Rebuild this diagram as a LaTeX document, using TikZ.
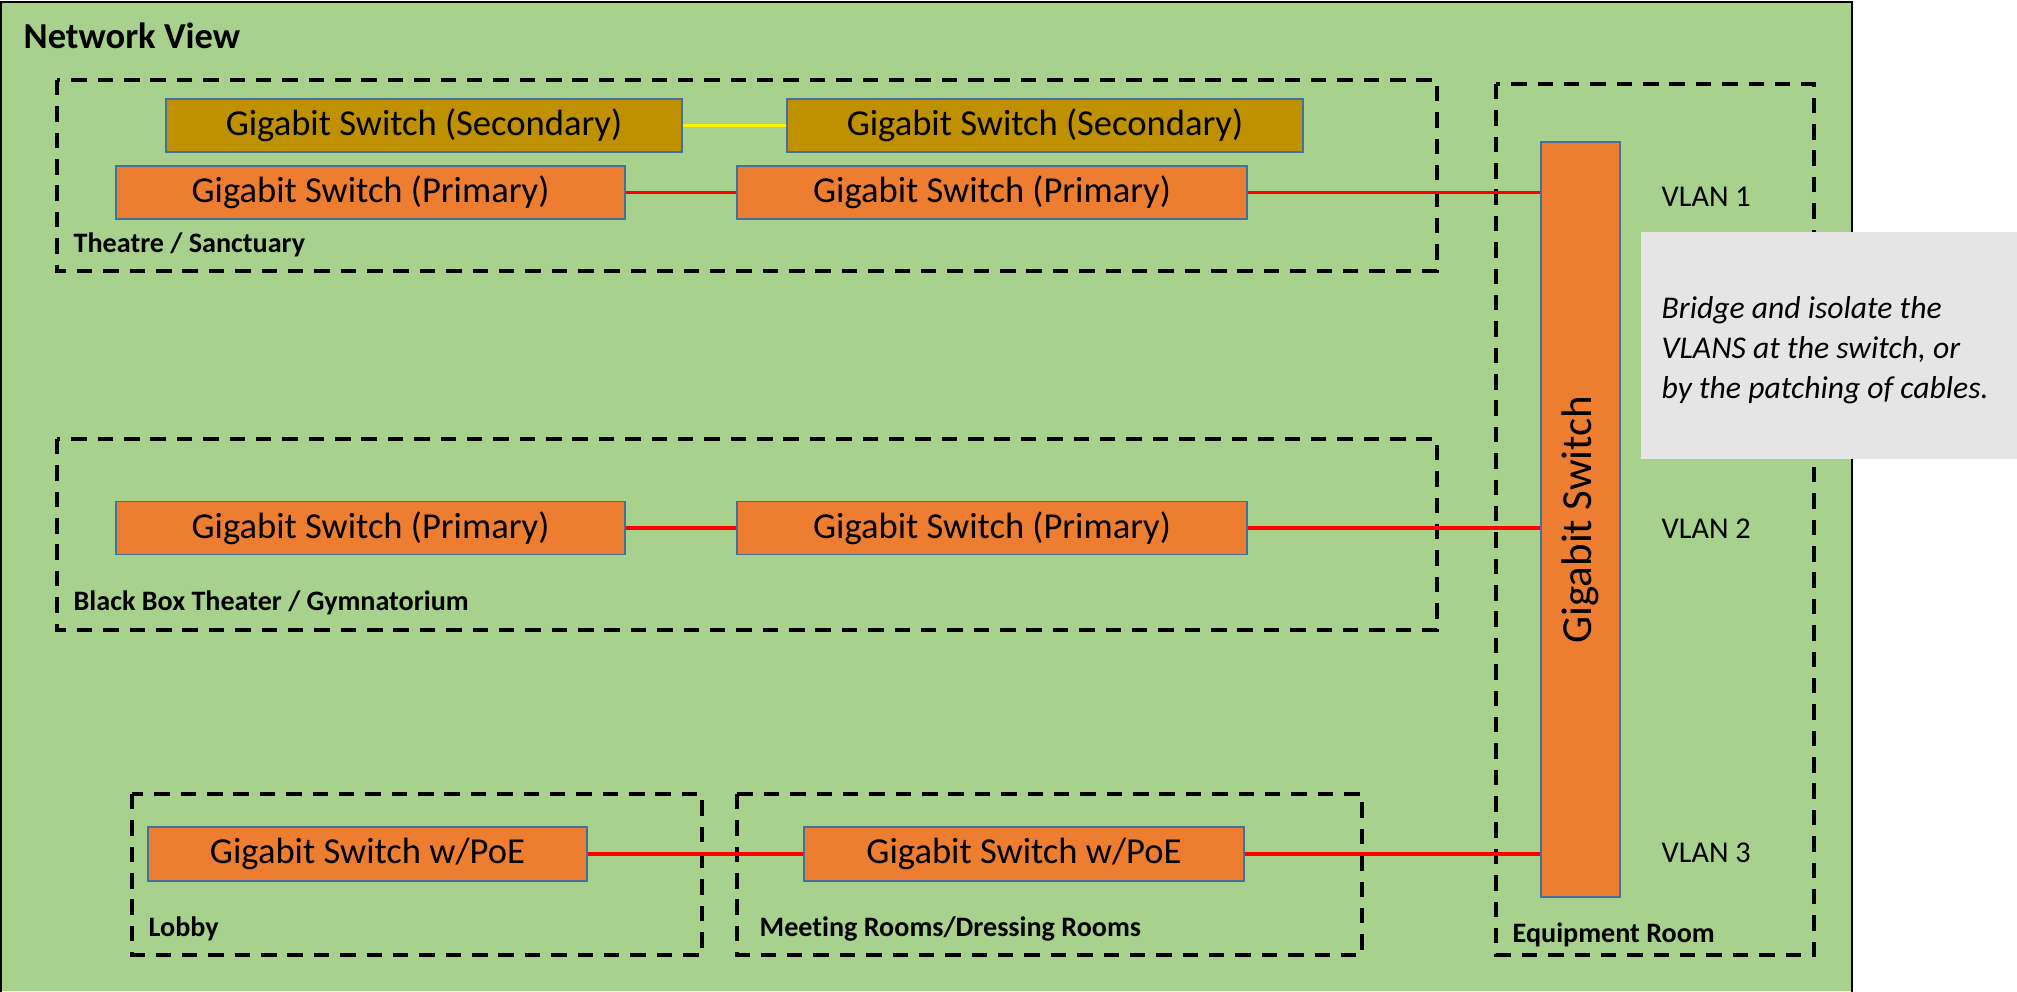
\documentclass[tikz,border=0pt]{standalone}
\usepackage{fontspec}
\setmainfont{Carlito}[Ligatures=NoCommon]
\definecolor{bggreen}{HTML}{A9D18E}
\definecolor{swprim}{HTML}{ED7D31}
\definecolor{swsec}{HTML}{BF9000}
\definecolor{swedge}{HTML}{41719C}
\definecolor{notegray}{HTML}{E5E5E5}
\tikzset{
  switchbox/.style={draw=swedge, line width=0.5pt, inner sep=0pt, font=\fontsize{10.4}{12}\selectfont},
  zone/.style={draw=black, line width=1.2pt, dash pattern=on 4.4pt off 3.1pt},
  zonelabel/.style={anchor=west, inner sep=0pt, font=\bfseries\fontsize{8}{9.6}\selectfont},
  vlanlabel/.style={anchor=west, inner sep=0pt, font=\fontsize{8.6}{10}\selectfont},
  redlink/.style={red, line width=0.9pt},
}
\begin{document}
\begin{tikzpicture}[x=0.01cm, y=-0.01cm]
\useasboundingbox (0,0) rectangle (2017,992);
\fill[bggreen] (1,2) rectangle (1852,991);
\draw[line width=0.7pt] (1,992) -- (1,2) -- (1852,2) -- (1852,992);
\node[anchor=west, inner sep=0pt, font=\bfseries\fontsize{10.4}{12}\selectfont] (title) at (23,36) {Network View};
% zones
\draw[zone] (57,80) rectangle (1437,271);
\node[zonelabel] (zthe) at (73,245) {Theatre / Sanctuary};
\draw[zone] (57,439) rectangle (1437,630);
\node[zonelabel] (zbbt) at (73,603) {Black Box Theater / Gymnatorium};
\draw[zone] (132,794) rectangle (702,955);
\node[zonelabel] (zlob) at (148,929) {Lobby};
\draw[zone] (737,794) rectangle (1362,955);
\node[zonelabel] (zmtg) at (759,929) {Meeting Rooms/Dressing Rooms};
\draw[zone] (1496,84) rectangle (1814,955);
\node[zonelabel] (zeqp) at (1512,935) {Equipment Room};
% switches
\node[switchbox, fill=swsec, minimum width=5.16cm, minimum height=0.53cm] (sec1) at (424,125.5) {Gigabit Switch (Secondary)};
\node[switchbox, fill=swsec, minimum width=5.16cm, minimum height=0.53cm] (sec2) at (1045,125.5) {Gigabit Switch (Secondary)};
\node[switchbox, fill=swprim, minimum width=5.09cm, minimum height=0.53cm] (thp1) at (370.5,192.5) {Gigabit Switch (Primary)};
\node[switchbox, fill=swprim, minimum width=5.10cm, minimum height=0.53cm] (thp2) at (992,192.5) {Gigabit Switch (Primary)};
\node[switchbox, fill=swprim, minimum width=5.09cm, minimum height=0.53cm] (bbp1) at (370.5,528) {Gigabit Switch (Primary)};
\node[switchbox, fill=swprim, minimum width=5.10cm, minimum height=0.53cm] (bbp2) at (992,528) {Gigabit Switch (Primary)};
\node[switchbox, fill=swprim, minimum width=4.39cm, minimum height=0.54cm] (lob) at (367.5,854) {Gigabit Switch w/PoE};
\node[switchbox, fill=swprim, minimum width=4.40cm, minimum height=0.54cm] (mtg) at (1024,854) {Gigabit Switch w/PoE};
\node[switchbox, fill=swprim, minimum width=0.79cm, minimum height=7.55cm] (core) at (1580.5,519.5) {};
\node[rotate=90, font=\fontsize{12.2}{14}\selectfont] (corelbl) at (core.center) {Gigabit Switch};
% links
\draw[yellow, line width=0.9pt](sec1) -- (sec2);
\draw[redlink](thp1) -- (thp2);
\draw[redlink](thp2.east) -- (thp2.east -| core.west);
\draw[redlink](bbp1) -- (bbp2);
\draw[redlink](bbp2.east) -- (bbp2.east -| core.west);
\draw[redlink](lob) -- (mtg);
\draw[redlink](mtg.east) -- (mtg.east -| core.west);
\node[vlanlabel] (vlan1) at (1661,197) {VLAN 1};
\node[vlanlabel] (vlan2) at (1661,529) {VLAN 2};
\node[vlanlabel] (vlan3) at (1661,853) {VLAN 3};
% note
\fill[notegray] (1641,232) rectangle (2017,459);
\node[anchor=west, inner sep=0pt, align=left, font=\itshape\fontsize{9}{11.3}\selectfont] (note) at (1661,350) {Bridge and isolate the\\VLANS at the switch, or\\by the patching of cables.};
\end{tikzpicture}
\end{document}
